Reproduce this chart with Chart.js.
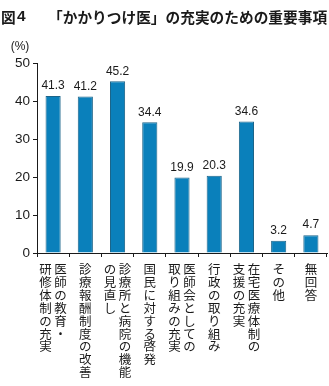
<!DOCTYPE html>
<html>
<head>
<meta charset="utf-8">
<script src="https://cdn.jsdelivr.net/npm/chart.js@4"></script>
<style>
  body { margin: 0; background: #fff; }
</style>
</head>
<body>
<canvas id="myChart" width="329" height="386"></canvas>
<script>
const figLabel = '図4';
const titleText = '「かかりつけ医」の充実のための重要事項';
const unitLabel = '(%)';

// each category is split into columns of vertical text (right column first)
const categories = [
    ['医師の教育・', '研修体制の充実'],
    ['診療報酬制度の改善'],
    ['診療所と病院の機能', 'の見直し'],
    ['国民に対する啓発'],
    ['医師会としての', '取り組みの充実'],
    ['行政の取り組み'],
    ['在宅医療体制の', '支援の充実'],
    ['その他'],
    ['無回答']
];
const values = [41.3, 41.2, 45.2, 34.4, 19.9, 20.3, 34.6, 3.2, 4.7];
const yTicks = [0, 10, 20, 30, 40, 50];

const textColor = '#1a1a1a';
const jpFont = '"Noto Sans CJK JP", sans-serif';
const numFont = '"Liberation Sans", Arial, sans-serif';

// draws title, unit, value labels and the vertical category names
const labelPlugin = {
    id: 'labelPlugin',
    afterDraw(chart) {
        const ctx = chart.ctx;
        const xScale = chart.scales.x;
        ctx.save();
        ctx.fillStyle = textColor;

        // title
        ctx.font = 'bold 14.7px ' + jpFont;
        ctx.textAlign = 'left';
        ctx.textBaseline = 'middle';
        ctx.fillText('図', 1, 17);
        ctx.font = 'bold 15.5px ' + numFont;
        ctx.fillText('4', 17, 17);
        ctx.font = 'bold 14.7px ' + jpFont;
        ctx.fillText(titleText, 48, 17);

        // unit
        ctx.font = '12px ' + numFont;
        ctx.textAlign = 'center';
        ctx.fillText(unitLabel, 20, 47);

        // values above bars
        ctx.font = '12px ' + numFont;
        ctx.textBaseline = 'bottom';
        const meta = chart.getDatasetMeta(0);
        meta.data.forEach((bar, i) => {
            ctx.fillText(values[i].toFixed(1), bar.x, bar.y - 4);
        });

        // vertical category labels
        ctx.font = '12.5px ' + jpFont;
        ctx.textBaseline = 'top';
        const step = 12.9;
        const top = chart.chartArea.bottom + 10;
        categories.forEach((cols, i) => {
            const cx = xScale.getPixelForValue(i);
            const n = cols.length;
            cols.forEach((col, c) => {
                // right-to-left columns
                const x = cx + ((n - 1) / 2 - c) * 15;
                Array.from(col).forEach((ch, k) => {
                    ctx.fillText(ch, x, top + k * step);
                });
            });
        });
        ctx.restore();
    }
};

const ctx = document.getElementById('myChart').getContext('2d');
const chart = new Chart(ctx, {
    type: 'bar',
    data: {
        labels: categories,
        datasets: [{
            data: values,
            backgroundColor: '#0a80bb',
            borderColor: '#1c6489',
            borderWidth: 1,
            categoryPercentage: 1,
            barPercentage: 0.47
        }]
    },
    options: {
        responsive: false,
        animation: false,
        layout: {
            padding: { top: 63, right: 2, left: 0, bottom: 0 }
        },
        plugins: {
            legend: { display: false },
            tooltip: { enabled: false },
            title: { display: false }
        },
        scales: {
            x: {
                offset: true,
                ticks: { display: false },
                grid: {
                    offset: true,
                    drawOnChartArea: false,
                    drawTicks: true,
                    tickLength: 4,
                    color: textColor
                },
                border: { color: textColor, width: 1 },
                afterFit(scale) { scale.height = 133; }
            },
            y: {
                min: 0,
                max: 50,
                afterBuildTicks(scale) {
                    scale.ticks = yTicks.map(v => ({ value: v }));
                },
                ticks: {
                    color: textColor,
                    font: { family: numFont, size: 13.5 },
                    padding: 3
                },
                grid: {
                    drawOnChartArea: false,
                    drawTicks: true,
                    tickLength: 4,
                    color: textColor
                },
                border: { color: textColor, width: 1 },
                afterFit(scale) { scale.width = 37; }
            }
        }
    },
    plugins: [labelPlugin]
});
</script>
</body>
</html>
